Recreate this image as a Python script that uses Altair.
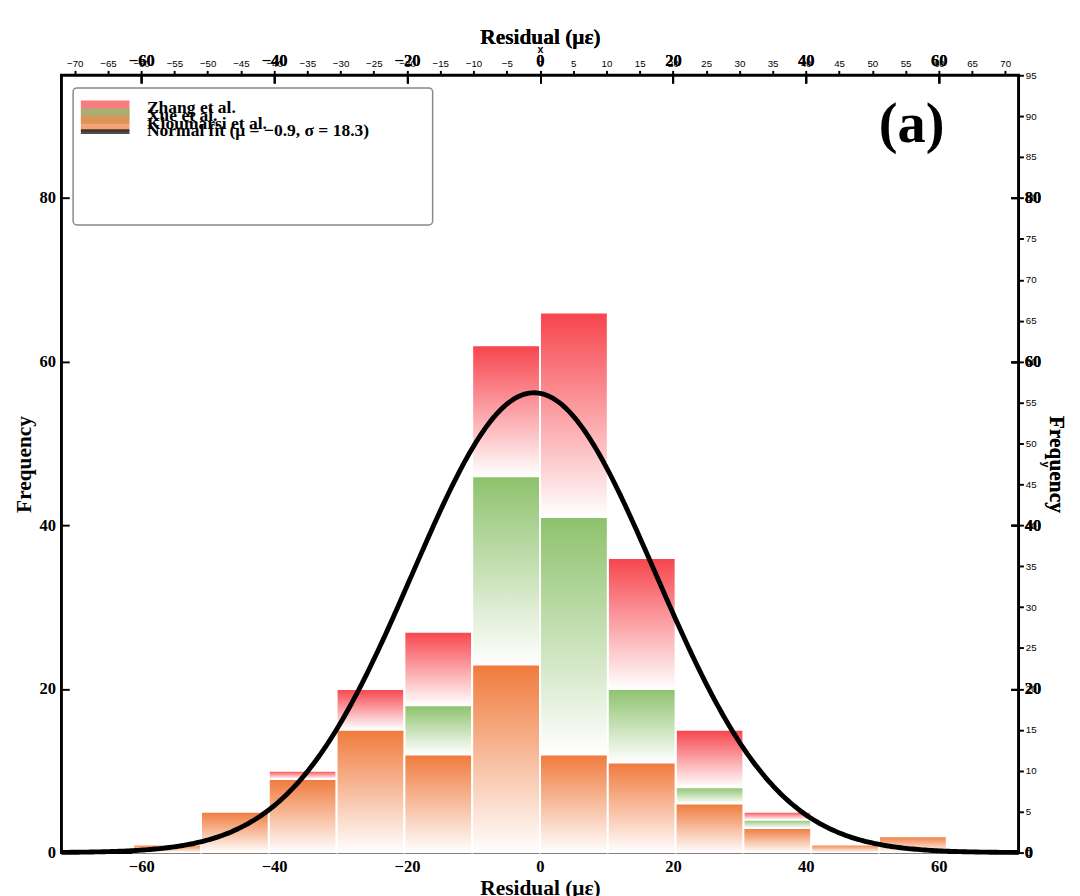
import altair as alt
import numpy as np
import pandas as pd

# bins of width 10.2 from -61.2 to 61.2
edges = [-61.2 + 10.2 * i for i in range(13)]
kioumarsi = [1, 5, 9, 15, 12, 23, 12, 11, 6, 3, 1, 2]
xue = [0, 0, 0, 0, 6, 23, 29, 9, 2, 1, 0, 0]
zhang = [0, 0, 1, 5, 9, 16, 25, 16, 7, 1, 0, 0]
series = ["Zhang et al.", "Xue et al.", "Kioumarsi et al."]
colors = {"Zhang et al.": "#F7444C", "Xue et al.": "#8DC26C", "Kioumarsi et al.": "#F07A3C"}
mu, sigma, peak = -0.9, 18.3, 56.2

rows = []
for i in range(12):
    b0 = 0
    for name, vals in [("Kioumarsi et al.", kioumarsi), ("Xue et al.", xue), ("Zhang et al.", zhang)]:
        if vals[i] > 0:
            rows.append(dict(series=name, x0=edges[i], x1=edges[i + 1], y0=b0, y1=b0 + vals[i]))
        b0 += vals[i]
bars = pd.DataFrame(rows)

xs = np.linspace(-72, 72, 400)
fit = pd.DataFrame({"x": xs, "y": peak * np.exp(-0.5 * ((xs - mu) / sigma) ** 2)})

font = "Liberation Serif"
xsc = alt.Scale(domain=[-72, 72], nice=False, zero=False)
ysc = alt.Scale(domain=[0, 95], nice=False)
xticks = list(range(-60, 61, 20))
yticks = list(range(0, 81, 20))
ax = dict(labelFont=font, titleFont=font, labelFontSize=17, titleFontSize=22, labelFontWeight="bold",
          titleFontWeight="bold", grid=False, offset=-8, tickSize=8, labelPadding=6)


def grad(c):
    return alt.Gradient(gradient="linear", x1=0, x2=0, y1=1, y2=0,
                        stops=[alt.GradientStop(color="#ffffff", offset=0),
                               alt.GradientStop(color=c, offset=1)])


layers = []
for name in series:
    layers.append(
        alt.Chart(bars[bars.series == name]).mark_bar(color=grad(colors[name]), stroke="white", strokeWidth=2)
        .encode(
            x=alt.X("x0:Q", scale=xsc, axis=alt.Axis(title="Residual (με)", values=xticks, titlePadding=4, **ax)),
            x2="x1",
            y=alt.Y("y0:Q", scale=ysc, axis=alt.Axis(title="Frequency", values=yticks, titlePadding=4, **ax)),
            y2="y1",
        )
    )

line = alt.Chart(fit).mark_line(color="black", strokeWidth=5).encode(
    x=alt.X("x:Q", scale=xsc), y=alt.Y("y:Q", scale=ysc))

top = alt.Chart(fit).mark_point(opacity=0).encode(
    x=alt.X("x:Q", scale=xsc, axis=alt.Axis(orient="top", labels=False, title=None, values=xticks,
                                            grid=False, offset=-8, tickSize=8)),
    y=alt.Y("y:Q", scale=ysc, axis=alt.Axis(orient="right", labels=False, title=None, values=yticks,
                                            grid=False, offset=-8, tickSize=8)),
)

legend_labels = series + ["Normal fit (μ = −0.9, σ = 18.3)"]
leg = pd.DataFrame({"label": legend_labels, "i": range(4)})
lsc = alt.Scale(domain=[0, 1, 2, 3], range=[30, 62, 95, 128])
leg_box = alt.Chart(leg.head(1)).mark_rect(fill="white", stroke="#888", strokeWidth=1.5, cornerRadius=4).encode(
    x=alt.value(12), x2=alt.value(382), y=alt.value(13), y2=alt.value(154))
leg_sw = alt.Chart(leg[leg.i < 3]).mark_tick(thickness=16, size=50, orient="horizontal").encode(
    x=alt.value(45),
    y=alt.Y("i:O", scale=lsc, axis=None),
    color=alt.Color("label:N", scale=alt.Scale(domain=series, range=[colors[s] for s in series]), legend=None),
)
leg_ln = alt.Chart(leg[leg.i == 3]).mark_tick(thickness=5, size=50, color="black", orient="horizontal").encode(
    x=alt.value(45),
    y=alt.Y("i:O", scale=lsc, axis=None),
)
leg_tx = alt.Chart(leg).mark_text(align="left", font=font, fontSize=18, fontWeight="bold").encode(
    x=alt.value(88),
    y=alt.Y("i:O", scale=lsc, axis=None),
    text="label:N",
)
tag = alt.Chart(leg.head(1)).mark_text(text="(a)", font=font, fontSize=58, fontWeight="bold").encode(
    x=alt.value(875), y=alt.value(52))

chart = (
    alt.layer(*layers, line, top, leg_box, leg_sw, leg_ln, leg_tx, tag)
    .resolve_axis(x="independent", y="independent")
    .properties(width=985, height=800)
    .configure_axis(domain=False, tickColor="black", tickWidth=2, labelColor="black", titleColor="black")
    .configure_view(stroke="black", strokeWidth=3)
)
chart.save("out.html", embed_options={"renderer": "svg", "actions": False})
